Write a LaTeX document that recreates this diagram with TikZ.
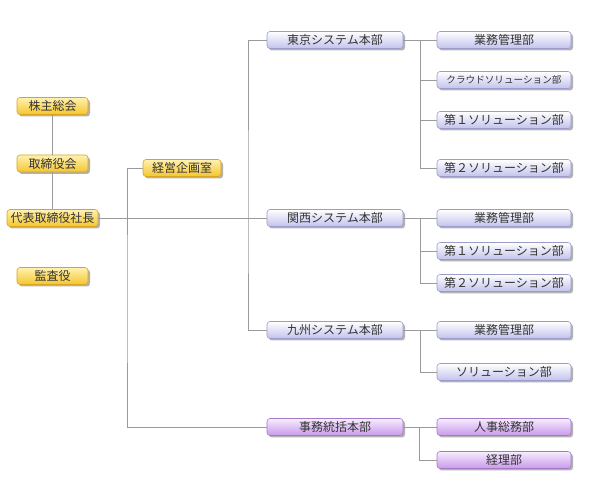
\documentclass[tikz,border=0pt]{standalone}
\usepackage{fontspec}
\setmainfont{Noto Sans CJK JP}
\usetikzlibrary{shadows}
\definecolor{ytop}{HTML}{FFF2B0}
\definecolor{ybot}{HTML}{F5C52E}
\definecolor{ydraw}{HTML}{D9A41E}
\definecolor{btop}{HTML}{FFFFFF}
\definecolor{bbot}{HTML}{C2C2EE}
\definecolor{bdraw}{HTML}{9C9CCC}
\definecolor{ptop}{HTML}{F6ECFF}
\definecolor{pbot}{HTML}{C99AEA}
\definecolor{pdraw}{HTML}{A678C8}
\definecolor{txt}{HTML}{333333}
\definecolor{wire}{HTML}{9A9A9A}
\tikzset{
  orgbox/.style={rounded corners=3pt, minimum height=17pt, inner sep=0pt,
    text=txt, font=\fontsize{12}{13}\selectfont, line width=0.6pt,
    drop shadow={shadow xshift=2pt, shadow yshift=-2pt, fill=black!55, opacity=0.55}},
  ybox/.style={orgbox, draw=ydraw, top color=ytop, bottom color=ybot},
  bbox/.style={orgbox, draw=bdraw, top color=btop, bottom color=bbot},
  pbox/.style={orgbox, draw=pdraw, top color=ptop, bottom color=pbot},
  lvtwo/.style={minimum width=136pt},
  lvthree/.style={minimum width=134pt},
  wireline/.style={draw=wire, line width=0.9pt}
}
\begin{document}
\begin{tikzpicture}[x=1pt,y=-1pt]
\useasboundingbox (0,0) rectangle (598,486);
% yellow column
\node[ybox, minimum width=71pt] (kabu) at (52.5,106) {株主総会};
\node[ybox, minimum width=71pt] (tori) at (52.5,163.5) {取締役会};
\node[ybox, minimum width=91pt] (pres) at (52.5,218) {代表取締役社長};
\node[ybox, minimum width=71pt] (kansa) at (52.5,276) {監査役};
\node[ybox, minimum width=78pt] (kikaku) at (182,168) {経営企画室};
% level 2
\node[bbox, lvtwo] (tokyo) at (335,40) {東京システム本部};
\node[bbox, lvtwo] (kansai) at (335,218) {関西システム本部};
\node[bbox, lvtwo] (kyushu) at (335,330) {九州システム本部};
\node[pbox, lvtwo] (jimu) at (335,427) {事務統括本部};
% level 3
\node[bbox, lvthree] (tk1) at (504,40) {業務管理部};
\node[bbox, lvthree, font=\fontsize{9.6}{10}\selectfont] (tk2) at (504,80) {クラウドソリューション部};
\node[bbox, lvthree] (tk3) at (504,120) {第１ソリューション部};
\node[bbox, lvthree] (tk4) at (504,168) {第２ソリューション部};
\node[bbox, lvthree] (ks1) at (504,218) {業務管理部};
\node[bbox, lvthree] (ks2) at (504,251) {第１ソリューション部};
\node[bbox, lvthree] (ks3) at (504,283) {第２ソリューション部};
\node[bbox, lvthree] (ky1) at (504,330) {業務管理部};
\node[bbox, lvthree] (ky2) at (504,372) {ソリューション部};
\node[pbox, lvthree] (jm1) at (504,427) {人事総務部};
\node[pbox, lvthree] (jm2) at (504,460) {経理部};
% bus coordinates
\coordinate (lsp) at (127,300);
\coordinate (msp) at (248,218);
\coordinate (tkb) at (420,40);
\coordinate (ksb) at (420,218);
\coordinate (kyb) at (420,330);
\coordinate (jmb) at (419,427);
% connectors
\path[wireline] (kabu.south) -- (tori.north);
\path[wireline] (tori.south) -- (pres.north);
\path[wireline] (pres.east) -- (kansai.west);
\path[wireline] (kikaku.west) -| (lsp) |- (jimu.west);
\path[wireline] (tokyo.west) -| (msp) |- (kyushu.west);
\path[wireline] (tokyo.east) -- (tk1.west);
\path[wireline] (tkb) |- (tk2.west);
\path[wireline] (tkb) |- (tk3.west);
\path[wireline] (tkb) |- (tk4.west);
\path[wireline] (kansai.east) -- (ks1.west);
\path[wireline] (ksb) |- (ks2.west);
\path[wireline] (ksb) |- (ks3.west);
\path[wireline] (kyushu.east) -- (ky1.west);
\path[wireline] (kyb) |- (ky2.west);
\path[wireline] (jimu.east) -- (jm1.west);
\path[wireline] (jmb) |- (jm2.west);
\end{tikzpicture}
\end{document}
